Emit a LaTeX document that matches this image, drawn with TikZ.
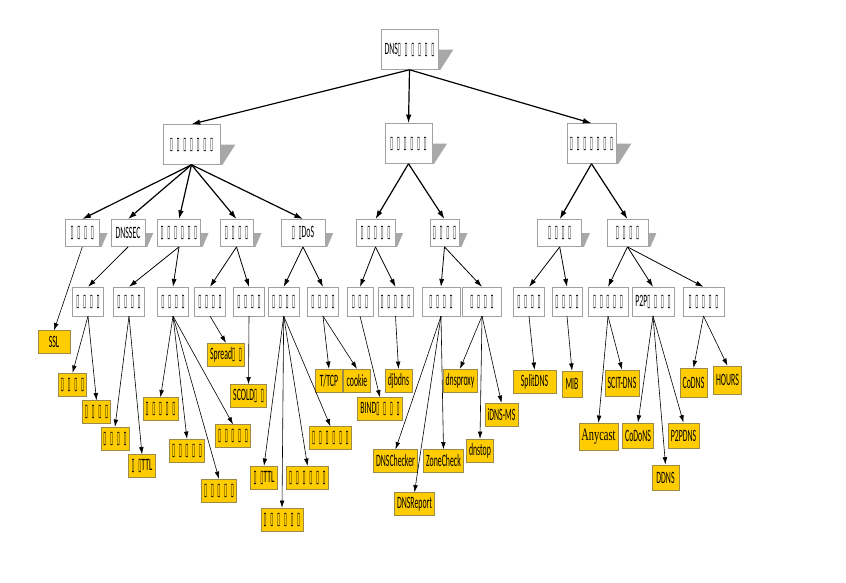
\documentclass[tikz,border=0pt]{standalone}
\usepackage{fontspec}
\setmainfont[FakeStretch=0.45]{Carlito}
\newfontfamily\boxfont[FakeStretch=0.32, LetterSpace=21]{DejaVu Sans}
\newfontfamily\serifnarrow[FakeStretch=0.6]{Liberation Serif}
\usepackage{xcolor}
\usepackage{tikz}
\usetikzlibrary{arrows.meta, calc}
\definecolor{leafyellow}{HTML}{FFCC00}
\definecolor{leafborder}{HTML}{9C8A4A}
\definecolor{boxborder}{HTML}{A0A0A0}
\definecolor{shadowgray}{HTML}{A8A8A8}
\newcommand{\gl}[1]{{\boxfont #1}}
\newcommand{\castshadow}[2]{\fill[shadowgray] (#1.east) -- ++(#2,0) -- ($(#1.south east)+(2,0)$) -- (#1.south east) -- cycle;}
\tikzset{
  topbox/.style={draw=boxborder, fill=white, minimum height=30pt, inner xsep=2pt},
  midbox/.style={draw=boxborder, fill=white, minimum height=20.5pt, minimum width=23pt, inner xsep=2pt},
  subbox/.style={draw=boxborder, fill=white, minimum height=21.5pt, minimum width=23.5pt, inner xsep=2pt},
  leaf/.style={draw=leafborder, fill=leafyellow, minimum height=17pt, minimum width=20pt, inner xsep=2pt, inner ysep=1pt},
  link/.style={-{Latex[length=6.5pt,width=4.2pt]}, line width=0.9pt},
  branch/.style={-{Latex[length=6pt,width=3.8pt]}, line width=0.6pt},
  twig/.style={-{Latex[length=5.5pt,width=3.5pt]}, line width=0.45pt}
}

\begin{document}
\begin{tikzpicture}[x=0.75pt, y=-0.75pt, font=\fontsize{13}{14}\selectfont]
  \useasboundingbox (0,0) rectangle (846,582);

  \node[topbox, minimum width=43pt] (root) at (409.5,49.5) {DNS\gl{▯▯▯▯▯▯}};
  \node[topbox, minimum width=43pt] (grpA) at (191.5,144.5) {\gl{▯▯▯▯▯▯▯}};
  \node[topbox, minimum width=35pt] (grpB) at (408.5,143.5) {\gl{▯▯▯▯▯▯}};
  \node[topbox, minimum width=37pt] (grpC) at (591.5,143.5) {\gl{▯▯▯▯▯▯▯}};

  \node[midbox, minimum width=25.5pt] (a1) at (82.3,233) {\gl{▯▯▯▯}};
  \node[midbox, minimum width=25.5pt] (a2) at (128,233) {DNSSEC};
  \node[midbox, minimum width=32pt] (a3) at (179,233) {\gl{▯▯▯▯▯▯}};
  \node[midbox, minimum width=25pt] (a4) at (236.5,233) {\gl{▯▯▯▯}};
  \node[midbox, minimum width=33pt] (a5) at (303,233) {\gl{▯▯}DoS};
  \node[midbox, minimum width=29pt] (b1) at (375.5,233) {\gl{▯▯▯▯▯}};
  \node[midbox, minimum width=22pt] (b2) at (444.5,233) {\gl{▯▯▯▯}};
  \node[midbox, minimum width=33pt] (c1) at (559.7,233) {\gl{▯▯▯▯}};
  \node[midbox, minimum width=31pt] (c2) at (627.5,233) {\gl{▯▯▯▯}};

  \foreach \n/\d in {root/15, grpA/15, grpB/15, grpC/15, a1/8, a2/8, a3/8, a4/8, a5/8, b1/8, b2/8, c1/8, c2/8}
    {\castshadow{\n}{\d}}

  \node[subbox] (d1) at (88,301.5) {\gl{▯▯▯▯}};
  \node[subbox] (e1) at (129,301.5) {\gl{▯▯▯▯}};
  \node[subbox] (e2) at (173,301.5) {\gl{▯▯▯▯}};
  \node[subbox] (f1) at (210,301.5) {\gl{▯▯▯▯}};
  \node[subbox] (f2) at (249,301.5) {\gl{▯▯▯▯}};
  \node[subbox] (g1) at (283.7,301.5) {\gl{▯▯▯▯}};
  \node[subbox] (g2) at (323,301.5) {\gl{▯▯▯▯}};
  \node[subbox, minimum width=19.5pt] (h1) at (360,301.5) {\gl{▯▯▯}};
  \node[subbox] (h2) at (395.5,301.5) {\gl{▯▯▯▯▯}};
  \node[subbox, minimum width=28.5pt] (i1) at (441,301.5) {\gl{▯▯▯▯}};
  \node[subbox, minimum width=29pt] (i2) at (482,301.5) {\gl{▯▯▯▯}};
  \node[subbox] (j1) at (529,301.5) {\gl{▯▯▯▯}};
  \node[subbox, minimum width=22.5pt] (j2) at (567,301.5) {\gl{▯▯▯▯}};
  \node[subbox, minimum width=30pt] (k1) at (608,301.5) {\gl{▯▯▯▯▯}};
  \node[subbox, minimum width=31.5pt] (k2) at (653,301.5) {P2P\gl{▯▯▯▯}};
  \node[subbox, minimum width=31pt] (k3) at (703.5,301.5) {\gl{▯▯▯▯▯}};

  \node[leaf, minimum width=24pt] (ssl) at (54,342) {SSL};
  \node[leaf] (d1x) at (72.5,384.5) {\gl{▯▯▯▯}};
  \node[leaf] (d1y) at (96.5,412) {\gl{▯▯▯▯}};
  \node[leaf] (e1x) at (115,438.5) {\gl{▯▯▯▯}};
  \node[leaf] (e1y) at (142,466) {\gl{▯▯}TTL};
  \node[leaf] (e2w) at (160.5,409) {\gl{▯▯▯▯▯}};
  \node[leaf] (e2x) at (187,450.5) {\gl{▯▯▯▯▯}};
  \node[leaf] (e2y) at (219,490.5) {\gl{▯▯▯▯▯}};
  \node[leaf] (e2z) at (233,436) {\gl{▯▯▯▯▯}};
  \node[leaf] (f1x) at (226,354.5) {Spread\gl{▯▯}};
  \node[leaf] (f2x) at (248.5,396) {SCOLD\gl{▯▯}};
  \node[leaf] (g1w) at (264,477.5) {\gl{▯▯}TTL};
  \node[leaf] (g1x) at (282,519.5) {\gl{▯▯▯▯▯▯}};
  \node[leaf] (g1y) at (307.5,477.5) {\gl{▯▯▯▯▯▯}};
  \node[leaf] (g1z) at (330.5,438) {\gl{▯▯▯▯▯▯}};
  \node[leaf] (g2x) at (329,380.5) {T/TCP};
  \node[leaf] (g2y) at (357,380.5) {cookie};
  \node[leaf] (h1x) at (380,409) {BIND\gl{▯▯▯▯}};
  \node[leaf] (h2x) at (398.5,380.5) {djbdns};
  \node[leaf] (i1x) at (395.5,461) {DNSChecker};
  \node[leaf] (i1y) at (414.5,504) {DNSReport};
  \node[leaf] (i1z) at (443.5,461) {ZoneCheck};
  \node[leaf] (i2x) at (460,380.5) {dnsproxy};
  \node[leaf] (i2y) at (480,450.5) {dnstop};
  \node[leaf] (i2z) at (501.5,414.5) {iDNS-MS};
  \node[leaf, minimum width=32pt] (j1x) at (534.5,381.5) {SplitDNS};
  \node[leaf, minimum width=15pt, minimum height=19.5pt] (j2x) at (572,384) {MIB};
  \node[leaf, minimum width=28pt, minimum height=20pt] (k1x) at (598.5,436.5) {\serifnarrow Anycast};
  \node[leaf, minimum height=19.5pt] (k1y) at (622,383) {SCIT-DNS};
  \node[leaf, minimum height=19pt] (k2x) at (638,435.5) {CoDoNS};
  \node[leaf, minimum height=19pt] (k2y) at (665.5,477.5) {DDNS};
  \node[leaf, minimum height=19pt] (k2z) at (683.5,435.5) {P2PDNS};
  \node[leaf, minimum height=21.5pt] (k3x) at (693.5,382.5) {CoDNS};
  \node[leaf, minimum height=21pt] (k3y) at (727.5,380) {HOURS};

  \foreach \c in {grpA, grpB, grpC}
    \draw[link] (root.south) -- (\c.north);
  \foreach \c in {a1, a2, a3, a4, a5}
    \draw[link] (grpA.south) -- (\c.north);
  \foreach \c in {b1, b2}
    \draw[link] (grpB.south) -- (\c.north);
  \foreach \c in {c1, c2}
    \draw[link] (grpC.south) -- (\c.north);

  \foreach \p/\c in {a2/d1, a3/e1, a3/e2, a4/f1, a4/f2, a5/g1, a5/g2, b1/h1, b1/h2, b2/i1, b2/i2, c1/j1, c1/j2, c2/k1, c2/k2, c2/k3}
    \draw[branch] (\p.south) -- (\c.north);

  \foreach \p/\c in {a1/ssl, d1/d1x, d1/d1y, e1/e1x, e1/e1y, e2/e2w, e2/e2x, e2/e2y, e2/e2z, f1/f1x, f2/f2x,
      g1/g1w, g1/g1x, g1/g1y, g1/g1z, g2/g2x, g2/g2y, h1/h1x, h2/h2x, i1/i1x, i1/i1y, i1/i1z, i2/i2x, i2/i2y, i2/i2z,
      j1/j1x, j2/j2x, k1/k1x, k1/k1y, k2/k2x, k2/k2y, k2/k2z, k3/k3x, k3/k3y}
    \draw[twig] (\p.south) -- (\c.north);
\end{tikzpicture}
\end{document}
